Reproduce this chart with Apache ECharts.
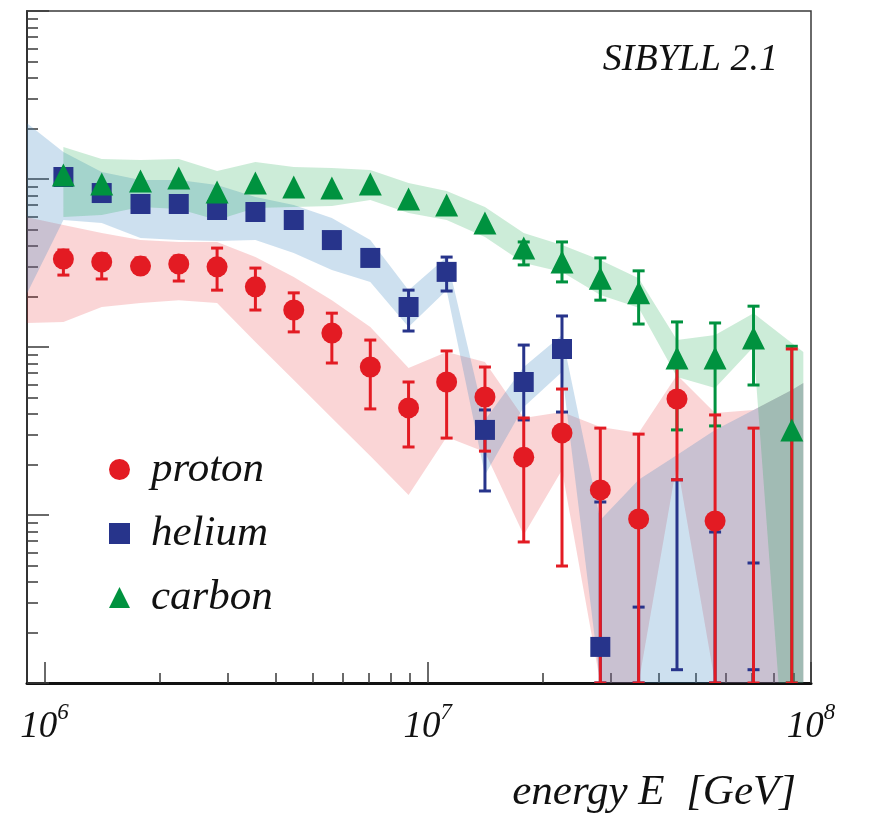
<!DOCTYPE html>
<html>
<head>
<meta charset="UTF-8">
<script src="https://cdn.jsdelivr.net/npm/echarts@6/dist/echarts.min.js"></script>
<style>html,body{margin:0;padding:0;background:#fff}</style>
</head>
<body>
<div id="chart" style="width:869px;height:817px"></div>
<script>
// energy bin centres [GeV]
var energy = [1.12e6, 1.41e6, 1.78e6, 2.24e6, 2.82e6, 3.55e6, 4.47e6, 5.62e6, 7.08e6, 8.91e6,
              1.12e7, 1.41e7, 1.78e7, 2.24e7, 2.82e7, 3.55e7, 4.47e7, 5.62e7, 7.08e7, 8.91e7];

// reconstructed fractions with error bars
var protonVal = [0.334, 0.321, 0.303, 0.312, 0.300, 0.228, 0.166, 0.121, 0.0760, 0.0434,
                 0.0619, 0.0504, 0.0221, 0.0308, 0.0141, 0.00947, 0.0490, 0.00921, null, null];
var protonHi  = [0.378, 0.358, 0.339, 0.348, 0.388, 0.295, 0.210, 0.159, 0.110, 0.0619,
                 0.0947, 0.0760, 0.0378, 0.0562, 0.0329, 0.0303, 0.0814, 0.0394, 0.0329, 0.0973];
var protonLo  = [0.268, 0.254, 0.276, 0.247, 0.218, 0.166, 0.123, 0.0803, 0.0428, 0.0254,
                 0.0287, 0.0240, 0.00691, 0.00497, 0.001, 0.001, 0.0162, 0.001, 0.001, 0.001];

var heliumVal = [1.028, 0.825, 0.710, 0.710, 0.654, 0.636, 0.570, 0.433, 0.339, 0.173,
                 0.280, 0.0321, 0.0619, 0.0973, 0.00164, null, null, null, null, null];
var heliumHi  = [null, null, null, null, null, null, null, null, null, 0.218,
                 0.343, 0.0422, 0.1027, 0.153, 0.01195, 0.00283, 0.0162, 0.00792, 0.00518, null];
var heliumLo  = [null, null, null, null, null, null, null, null, null, 0.1245,
                 0.2154, 0.0139, 0.0368, 0.0410, 0.001, 0.001, 0.0012, 0.001, 0.0012, null];

var carbonVal = [1.056, 0.934, 0.973, 1.014, 0.837, 0.947, 0.896, 0.884, 0.934, 0.760,
                 0.700, 0.547, 0.388, 0.321, 0.257, 0.210, 0.0860, 0.0860, 0.113, 0.0321];
var carbonHi  = [null, null, null, null, null, null, null, null, null, null,
                 null, null, 0.422, 0.422, 0.339, 0.284, 0.141, 0.139, 0.175, 0.101];
var carbonLo  = [null, null, null, null, null, null, null, null, null, null,
                 null, null, 0.308, 0.244, 0.190, 0.137, 0.0321, 0.0339, 0.0594, 0.001];

// shaded bands (systematics), one more point on each side
var bandEnergy = [8.91e5, 1.12e6, 1.41e6, 1.78e6, 2.24e6, 2.82e6, 3.55e6, 4.47e6, 5.62e6, 7.08e6, 8.91e6,
                  1.12e7, 1.41e7, 1.78e7, 2.24e7, 2.82e7, 3.55e7, 4.47e7, 5.62e7, 7.08e7, 8.91e7, 9.55e7];
var protonBandHi = [0.594, 0.532, 0.477, 0.433, 0.422, 0.422, 0.343, 0.261, 0.190, 0.1315, 0.0750,
                    0.0934, 0.0814, 0.0378, 0.0410, 0.0334, 0.0308, 0.0681, 0.0405, 0.0422, 0.0555, 0.0610];
var protonBandLo = [0.139, 0.141, 0.173, 0.183, 0.190, 0.183, 0.107, 0.0636, 0.0378, 0.02245, 0.01315,
                    0.0291, 0.0237, 0.0076, 0.01853, 0.001, 0.001, 0.0204, 0.001, 0.001, 0.001, 0.001];
var heliumBandHi = [2.184, 1.448, 1.101, 0.986, 0.986, 0.921, 0.781, 0.700, 0.586, 0.433, 0.218,
                    0.343, 0.0368, 0.0760, 0.1179, 0.00934, 0.0162, 0.02276, 0.0321, 0.0422, 0.0555, 0.0610];
var heliumBandLo = [0.1985, 0.570, 0.547, 0.4455, 0.433, 0.4275, 0.433, 0.3627, 0.287, 0.2437, 0.1315,
                    0.218, 0.0173, 0.0439, 0.0710, 0.001, 0.001, 0.001, 0.001, 0.001, 0.001, 0.001];
var carbonBandHi = [null, 1.551, 1.315, 1.297, 1.315, 1.116, 1.262, 1.179, 1.163, 1.131, 0.947,
                    0.848, 0.681, 0.477, 0.405, 0.330, 0.257, 0.110, 0.1179, 0.159, 0.1056, 0.0934];
var carbonBandLo = [null, 0.594, 0.610, 0.681, 0.663, 0.570, 0.672, 0.681, 0.690, 0.750, 0.628,
                    0.570, 0.452, 0.316, 0.280, 0.204, 0.171, 0.0663, 0.0570, 0.100, 0.0000884, 0.0000884];

var majorX = [1e6, 1e7, 1e8];
var minorX = [2e6, 3e6, 4e6, 5e6, 6e6, 7e6, 8e6, 9e6, 2e7, 3e7, 4e7, 5e7, 6e7, 7e7, 8e7, 9e7];
var majorY = [0.001, 0.01, 0.1, 1, 10];
var minorY = [0.002, 0.003, 0.004, 0.005, 0.006, 0.007, 0.008, 0.009,
              0.02, 0.03, 0.04, 0.05, 0.06, 0.07, 0.08, 0.09,
              0.2, 0.3, 0.4, 0.5, 0.6, 0.7, 0.8, 0.9,
              2, 3, 4, 5, 6, 7, 8, 9];

var RED = '#e31b23', BLUE = '#27348b', GREEN = '#00923f';
var FONT = 'Liberation Serif';

function clipRect(params) {
  var c = params.coordSys;
  return { type: 'rect', shape: { x: c.x, y: c.y, width: c.width, height: c.height } };
}

function bandRender(lo, hi, fill) {
  var first = 0;
  while (hi[first] == null) first++;
  return function (params, api) {
    if (params.dataIndex !== first) return;
    var pts = [], i;
    for (i = 0; i < bandEnergy.length; i++) {
      if (hi[i] != null) pts.push(api.coord([bandEnergy[i], hi[i]]));
    }
    for (i = bandEnergy.length - 1; i >= 0; i--) {
      if (lo[i] != null) pts.push(api.coord([bandEnergy[i], lo[i]]));
    }
    return {
      type: 'polygon',
      clipPath: clipRect(params),
      shape: { points: pts },
      style: { fill: fill }
    };
  };
}

function errRender(lo, hi, color) {
  return function (params, api) {
    var i = params.dataIndex;
    if (hi[i] == null || lo[i] == null) return;
    var t = api.coord([energy[i], hi[i]]);
    var b = api.coord([energy[i], lo[i]]);
    var w = 6, st = { stroke: color, lineWidth: 3 };
    return {
      type: 'group',
      clipPath: clipRect(params),
      children: [
        { type: 'line', shape: { x1: t[0], y1: t[1], x2: b[0], y2: b[1] }, style: st },
        { type: 'line', shape: { x1: t[0] - w, y1: t[1], x2: t[0] + w, y2: t[1] }, style: st },
        { type: 'line', shape: { x1: b[0] - w, y1: b[1], x2: b[0] + w, y2: b[1] }, style: st }
      ]
    };
  };
}

function points(vals) {
  var out = [];
  for (var i = 0; i < energy.length; i++) {
    if (vals[i] != null) out.push([energy[i], vals[i]]);
  }
  return out;
}

function bandSeries(lo, hi, fill) {
  return {
    type: 'custom', silent: true,
    renderItem: bandRender(lo, hi, fill),
    data: bandEnergy.map(function (e, i) { return [e, lo[i], hi[i]]; }),
    encode: { x: 0, y: [1, 2] }
  };
}

function errSeries(lo, hi, color) {
  return {
    type: 'custom', silent: true,
    renderItem: errRender(lo, hi, color),
    data: energy.map(function (e, i) { return [e, lo[i], hi[i]]; }),
    encode: { x: 0, y: [1, 2] }
  };
}

var chart = echarts.init(document.getElementById('chart'));

var tickStyle = { color: '#3a3a3a', width: 1.5 };

chart.setOption({
  animation: false,
  title: [
    { text: 'SIBYLL 2.1', right: 86, top: 36,
      textStyle: { fontFamily: FONT, fontStyle: 'italic', fontWeight: 'normal', fontSize: 38, color: '#111' } },
    { text: 'energy E  [GeV]', right: 68, top: 766,
      textStyle: { fontFamily: FONT, fontStyle: 'italic', fontWeight: 'normal', fontSize: 43, color: '#111' } }
  ],
  legend: {
    orient: 'vertical', left: 104, top: 443,
    itemWidth: 21, itemHeight: 21, itemGap: 21,
    selectedMode: false,
    textStyle: { fontFamily: FONT, fontStyle: 'italic', fontSize: 43, color: '#111', padding: [0, 0, 0, 16], lineHeight: 43 },
    data: [
      { name: 'proton', icon: 'circle' },
      { name: 'helium', icon: 'rect' },
      { name: 'carbon', icon: 'triangle' }
    ]
  },
  grid: { left: 27, top: 11, right: 58, bottom: 134, show: true, borderColor: '#3a3a3a', borderWidth: 1.5 },
  xAxis: [
    {
      type: 'log', min: 9e5, max: 1e8,
      axisLine: { show: true, lineStyle: { color: '#111', width: 3 } },
      axisTick: { show: true, inside: true, length: 21, customValues: majorX, lineStyle: tickStyle },
      axisLabel: {
        customValues: majorX, margin: 18,
        formatter: function (v) { return '{b|10}{s|' + Math.round(Math.log10(v)) + '}'; },
        rich: {
          b: { fontFamily: FONT, fontStyle: 'italic', fontSize: 37, color: '#111', padding: [6, 0, 0, 0] },
          s: { fontFamily: FONT, fontStyle: 'italic', fontSize: 23, color: '#111', padding: [0, 0, 24, 0] }
        }
      },
      splitLine: { show: false }
    },
    {
      type: 'log', min: 9e5, max: 1e8, position: 'bottom',
      axisLine: { show: false },
      axisTick: { show: true, inside: true, length: 10, customValues: minorX, lineStyle: tickStyle },
      axisLabel: { show: false },
      splitLine: { show: false }
    }
  ],
  yAxis: [
    {
      type: 'log', min: 0.001, max: 10,
      axisLine: { show: true, lineStyle: { color: '#333', width: 2 } },
      axisTick: { show: true, inside: true, length: 22, customValues: majorY, lineStyle: tickStyle },
      axisLabel: { show: false },
      splitLine: { show: false }
    },
    {
      type: 'log', min: 0.001, max: 10, position: 'left',
      axisLine: { show: false },
      axisTick: { show: true, inside: true, length: 11, customValues: minorY, lineStyle: tickStyle },
      axisLabel: { show: false },
      splitLine: { show: false }
    }
  ],
  series: [
    bandSeries(protonBandLo, protonBandHi, 'rgba(227,30,36,0.19)'),
    bandSeries(heliumBandLo, heliumBandHi, 'rgba(60,135,195,0.26)'),
    bandSeries(carbonBandLo, carbonBandHi, 'rgba(0,160,60,0.2)'),
    errSeries(heliumLo, heliumHi, BLUE),
    { name: 'helium', type: 'scatter', symbol: 'rect', symbolSize: 20,
      itemStyle: { color: BLUE, opacity: 1 }, data: points(heliumVal) },
    errSeries(carbonLo, carbonHi, GREEN),
    { name: 'carbon', type: 'scatter', symbol: 'triangle', symbolSize: [23, 23],
      itemStyle: { color: GREEN, opacity: 1 }, data: points(carbonVal) },
    errSeries(protonLo, protonHi, RED),
    { name: 'proton', type: 'scatter', symbol: 'circle', symbolSize: 21,
      itemStyle: { color: RED, opacity: 1 }, data: points(protonVal) }
  ]
});
</script>
</body>
</html>
